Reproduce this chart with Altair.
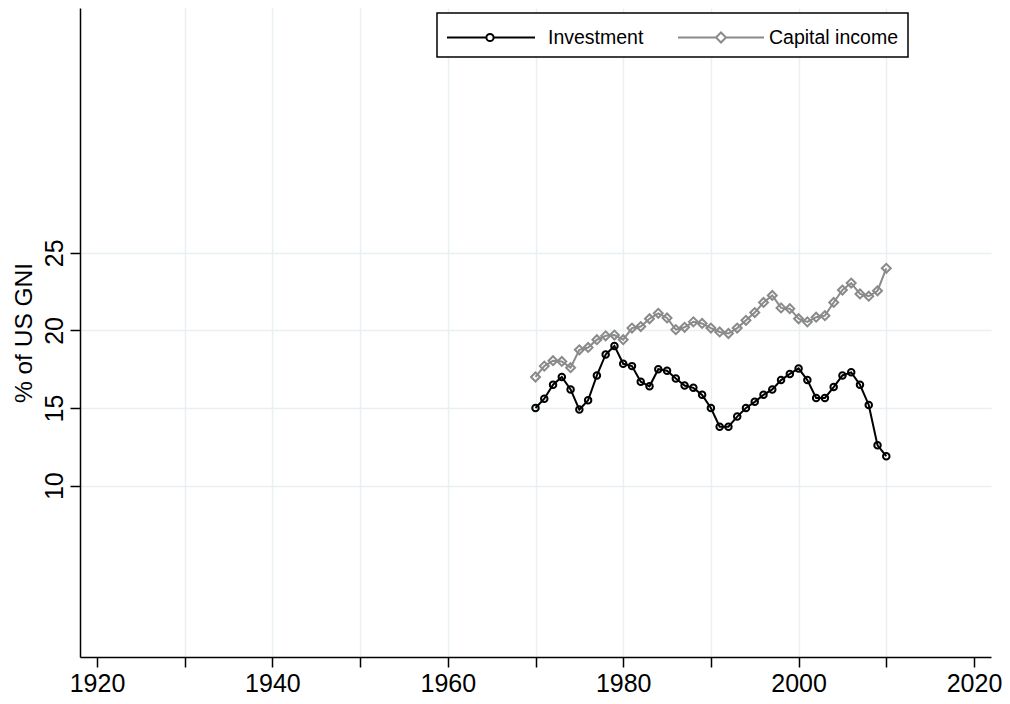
import altair as alt
import pandas as pd

years = list(range(1970, 2011))
investment = [15.0, 15.6, 16.5, 17.0, 16.2, 14.9, 15.5, 17.1, 18.45, 19.0,
              17.85, 17.7, 16.7, 16.4, 17.5, 17.4, 16.9, 16.45, 16.3, 15.85,
              15.0, 13.8, 13.8, 14.45, 15.0, 15.4, 15.85, 16.2, 16.8, 17.2,
              17.55, 16.8, 15.65, 15.65, 16.35, 17.1, 17.3, 16.5, 15.2, 12.6, 11.9]
capital_income = [17.0, 17.7, 18.05, 18.0, 17.6, 18.75, 18.9, 19.4, 19.65, 19.7,
                  19.4, 20.15, 20.25, 20.75, 21.1, 20.8, 20.05, 20.2, 20.55, 20.45,
                  20.15, 19.9, 19.8, 20.15, 20.65, 21.15, 21.8, 22.25, 21.45, 21.4,
                  20.75, 20.55, 20.85, 20.95, 21.8, 22.6, 23.05, 22.35, 22.2, 22.55, 24.0]
series_names = ["Investment", "Capital income"]
x_ticks = list(range(1920, 2021, 10))
y_ticks = [10, 15, 20, 25]

df = pd.DataFrame({
    "year": years * 2,
    "value": investment + capital_income,
    "series": [series_names[0]] * len(years) + [series_names[1]] * len(years),
})

FONT = "Liberation Sans"
BLACK = "#000000"
GRAY = "#8a8a8a"

x_enc = alt.X("year:Q",
              scale=alt.Scale(domain=[1918.06, 2021.94], nice=False, zero=False),
              axis=alt.Axis(values=x_ticks, title=None, format="d",
                            labelExpr="datum.value % 20 == 0 ? datum.label : ''",
                            labelOverlap=False, labelFlush=False, labelPadding=4,
                            grid=True,
                            gridOpacity={"condition": {"test": "datum.value == 1920 || datum.value == 2020", "value": 0}, "value": 1}))
y_enc = alt.Y("value:Q",
              scale=alt.Scale(domain=[-1.03, 40.76], nice=False, zero=False),
              axis=alt.Axis(values=y_ticks, title="% of US GNI", labelAngle=270,
                            labelAlign="center", labelBaseline="alphabetic",
                            labelPadding=8, titlePadding=6, grid=True))

base = alt.Chart(df)

line_inv = base.transform_filter(alt.datum.series == series_names[0]).mark_line(
    color=BLACK, strokeWidth=2).encode(x=x_enc, y=y_enc)
line_cap = base.transform_filter(alt.datum.series == series_names[1]).mark_line(
    color=GRAY, strokeWidth=2).encode(x=x_enc, y=y_enc)
pt_inv = base.transform_filter(alt.datum.series == series_names[0]).mark_point(
    shape="circle", filled=False, color=BLACK, size=42, strokeWidth=2, opacity=1
).encode(x=x_enc, y=y_enc)
pt_cap = base.transform_filter(alt.datum.series == series_names[1]).mark_point(
    shape="diamond", filled=False, color=GRAY, size=80, strokeWidth=2, opacity=1
).encode(x=x_enc, y=y_enc)

# legend symbols: line with marker (unit = 13.5 px at symbolSize 729)
path_inv = ("M-1.074,0H1.844M2.378,0H5.444"
            "M1.844,0A0.267,0.267 0 1,0 2.378,0A0.267,0.267 0 1,0 1.844,0")
path_cap = "M-0.333,0H2.482M3.222,0H6.037M2.482,0L2.852,-0.370L3.222,0L2.852,0.370Z"

leg = alt.Legend(title=None, orient="none", legendX=357, legendY=5,
                 direction="horizontal", columns=2,
                 padding=10, strokeColor=BLACK, fillColor="white",
                 symbolSize=729, symbolOffset=0, labelOffset=72, columnPadding=24,
                 symbolStrokeWidth=2, symbolOpacity=1,
                 labelFont=FONT, labelFontSize=19.5, labelColor=BLACK,
                 labelLimit=300)

legend_layer = base.transform_filter("false").mark_point(
    filled=False, strokeWidth=2, opacity=1, size=64
).encode(
    color=alt.Color("series:N", scale=alt.Scale(domain=series_names, range=[BLACK, GRAY]),
                    legend=leg),
    shape=alt.Shape("series:N", scale=alt.Scale(domain=series_names, range=[path_inv, path_cap]),
                    legend=leg),
)

chart = alt.layer(line_cap, line_inv, pt_cap, pt_inv, legend_layer).properties(
    width=911, height=649,
    autosize=alt.AutoSizeParams(type="none"),
    padding={"left": 72, "top": 0, "right": 11, "bottom": 46},
).configure_view(stroke=None).configure_axis(
    domainColor=BLACK, domainWidth=1.5, tickColor=BLACK, tickWidth=1.5, tickSize=10,
    labelFont=FONT, labelFontSize=25, labelColor=BLACK,
    titleFont=FONT, titleFontSize=24.5, titleFontWeight="normal", titleColor=BLACK,
    gridColor="#e8f0f2", gridWidth=1.5,
).configure_legend(strokeWidth=1.5)

chart.save("out.html", embed_options={"renderer": "svg", "actions": False})
